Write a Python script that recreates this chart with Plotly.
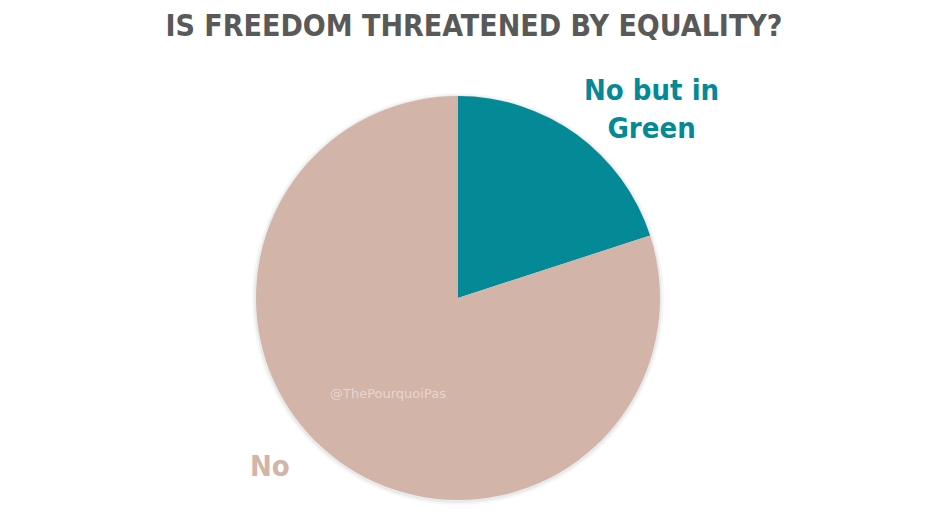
import plotly.graph_objects as go

labels = ["No but in Green", "No"]
values = [20, 80]
colors = ["#048A96", "#D2B4A8"]

# the page adds an 8px body margin, so the figure is sized to fit inside it
W, H, OFF = 909, 504, 8


def px(x, y):
    # page pixel -> paper coordinates
    return (x - OFF) / W, 1 - (y - OFF) / H


def dom(cx, cy, r):
    x0, y0 = px(cx - r, cy + r)
    x1, y1 = px(cx + r, cy - r)
    return dict(x=[x0, x1], y=[y0, y1])


fig = go.Figure()
# soft shadow under the pie (two faint discs)
for r, a in [(206, 0.03), (204, 0.05)]:
    fig.add_trace(go.Pie(
        values=[1], sort=False, marker=dict(colors=["rgba(0,0,0,%s)" % a], line=dict(width=0)),
        textinfo="none", hoverinfo="skip", showlegend=False, domain=dom(458, 299, r),
    ))
fig.add_trace(go.Pie(
    labels=labels, values=values, sort=False, direction="clockwise", rotation=0,
    marker=dict(colors=colors, line=dict(width=0)),
    textinfo="none", hoverinfo="label+percent", showlegend=False,
    domain=dom(458, 298, 202),
))

font = "DejaVu Sans Condensed, Liberation Sans Narrow, sans-serif"
tx, ty = px(474, 25)
fig.update_layout(
    width=W, height=H,
    margin=dict(l=0, r=0, t=0, b=0),
    paper_bgcolor="white", plot_bgcolor="white",
    title=dict(text="<b>IS FREEDOM THREATENED BY EQUALITY?</b>", x=tx, xanchor="center",
               y=ty, yanchor="middle", font=dict(family=font, size=30, color="#595959")),
)
ax, ay = px(651, 109)
fig.add_annotation(text="<b>No but in<br>Green</b>", x=ax, y=ay, xanchor="center", yanchor="middle",
                   xref="paper", yref="paper", showarrow=False,
                   font=dict(family=font, size=29, color="#048A96"))
ax, ay = px(270, 466)
fig.add_annotation(text="<b>No</b>", x=ax, y=ay, xanchor="center", yanchor="middle",
                   xref="paper", yref="paper", showarrow=False,
                   font=dict(family=font, size=29, color="#D2B4A8"))
ax, ay = px(388, 393)
fig.add_annotation(text="@ThePourquoiPas", x=ax, y=ay, xanchor="center", yanchor="middle",
                   xref="paper", yref="paper", showarrow=False,
                   font=dict(family="Tahoma, DejaVu Sans, sans-serif", size=13, color="#E6D6D0"))

fig.write_html("out.html")
